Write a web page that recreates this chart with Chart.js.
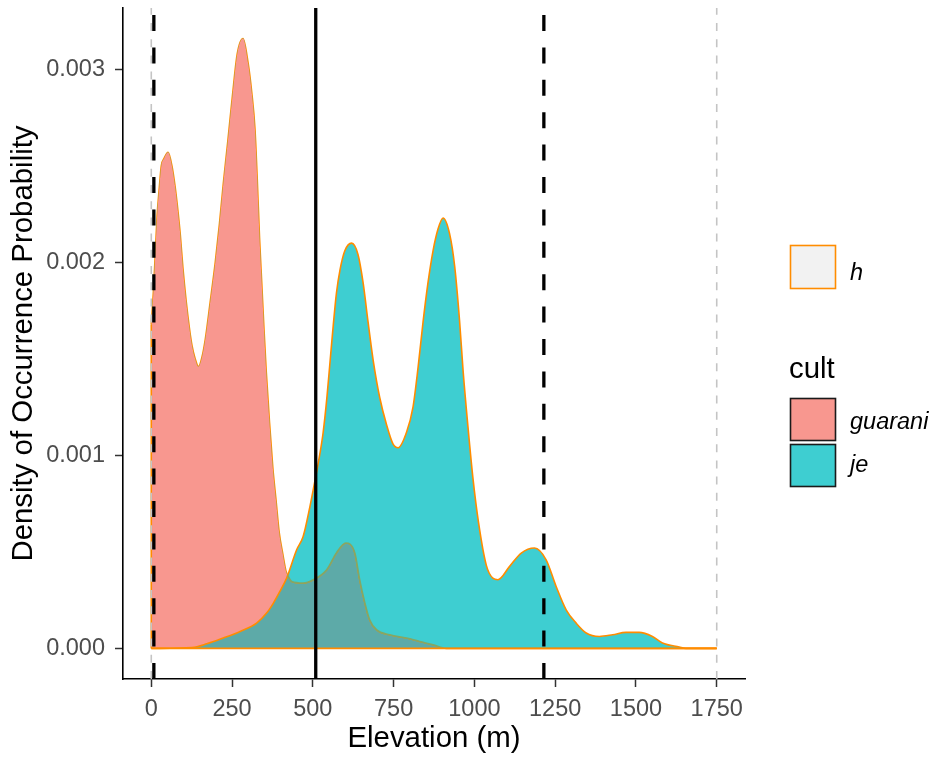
<!DOCTYPE html>
<html>
<head>
<meta charset="utf-8">
<title>Elevation density by cultural tradition</title>
<script src="https://cdn.jsdelivr.net/npm/chart.js@4.4.1/dist/chart.umd.min.js"></script>
<style>
  html, body { margin: 0; padding: 0; background: #ffffff; }
  #wrap { width: 939px; height: 758px; }
  canvas { display: block; }
</style>
</head>
<body>
<div id="wrap"><canvas id="chart" width="939" height="758"></canvas></div>
<script>
// Kernel density of site elevations, per cultural tradition
const guaraniElevation = [0, 7, 12, 18, 25, 31, 40, 52, 64, 74, 81, 90, 98, 108, 118, 126, 136, 146, 157, 167,
  182, 198, 211, 223, 237, 251, 266, 284, 300, 311, 321, 328, 335, 342, 349, 356, 366, 376, 386, 396,
  407, 417, 424, 435, 470, 501, 543, 573, 602, 630, 645, 661, 676, 697, 738, 790, 831, 872, 913, 1750];
const guaraniDensity = [0.00168, 0.00186, 0.00203, 0.00224, 0.00239, 0.00250, 0.00254, 0.00257, 0.00250, 0.00239,
  0.00229, 0.00214, 0.00197, 0.00180, 0.00166, 0.00157, 0.00150, 0.00146, 0.00151, 0.00160,
  0.00179, 0.00200, 0.00220, 0.00241, 0.00263, 0.00286, 0.00308, 0.00316, 0.00303, 0.00288,
  0.00269, 0.00243, 0.00213, 0.00189, 0.00165, 0.00143, 0.00117, 0.00094, 0.00077, 0.00060,
  0.00049, 0.00040, 0.000373, 0.000347, 0.000339, 0.000356, 0.000408, 0.000495, 0.000546, 0.000495,
  0.000356, 0.000236, 0.000148, 0.000097, 0.000071, 0.000054, 0.000036, 0.000019, 0, 0];

const jeElevation = [0, 126, 172, 223, 275, 326, 357, 378, 398, 419, 450, 470, 491, 501, 522, 532, 543, 553, 563, 573,
  584, 599, 620, 640, 656, 671, 687, 707, 728, 748, 764, 790, 810, 826, 841, 856, 872, 887, 903, 923,
  939, 954, 965, 980, 995, 1013, 1037, 1057, 1073, 1109, 1145, 1186, 1222, 1253, 1284, 1315, 1346, 1387, 1428, 1469,
  1510, 1551, 1582, 1634, 1654, 1750];
const jeDensity = [0, 0.000005, 0.000024, 0.000054, 0.000088, 0.000131, 0.000183, 0.000235, 0.000295, 0.000365,
  0.000511, 0.00058, 0.000735, 0.00082, 0.00101, 0.00112, 0.00129, 0.00148, 0.00167, 0.00184,
  0.00196, 0.00206, 0.00210, 0.00204, 0.00189, 0.00169, 0.00149, 0.00130, 0.00116, 0.00106,
  0.00104, 0.00112, 0.00125, 0.00146, 0.00169, 0.00189, 0.00206, 0.00217, 0.00223, 0.00215,
  0.00198, 0.00170, 0.00144, 0.00115, 0.00089, 0.00065, 0.00043, 0.000364, 0.000356, 0.000425,
  0.000494, 0.00052, 0.000459, 0.000321, 0.00020, 0.000131, 0.00008, 0.000062, 0.000071, 0.000083,
  0.000083, 0.000062, 0.000028, 0.000007, 0, 0];

const seriesNames = ['guarani', 'je'];
const outlineName = 'h';
const legendTitle = 'cult';

const elevationTicks = [0, 250, 500, 750, 1000, 1250, 1500, 1750];
const densityTicks = [0, 0.001, 0.002, 0.003];

// reference lines (elevation, m)
const studyBounds = [0, 1750];       // grey dashed
const quantileLines = [8, 1215];     // black dashed
const medianLine = [509];            // black solid

const ORANGE = '#FF8C00';
const OLIVE = 'rgb(128,168,104)';
const GUARANI_FILL = 'rgb(248,151,143)';
const JE_FILL = 'rgb(62,206,209)';
const OVERLAP_FILL = 'rgb(93,170,168)';
const FONT = 'Arial, "Liberation Sans", sans-serif';

Chart.defaults.font.family = FONT;

function toPoints(xs, ys) { return xs.map((x, i) => ({ x: x, y: ys[i] })); }

const refLines = {
  id: 'refLines',
  afterDatasetsDraw(chart) {
    const { ctx, chartArea, scales: { x, y } } = chart;
    const y0 = y.getPixelForValue(0);
    const jeLine = chart.getDatasetMeta(0).dataset;
    const guLine = chart.getDatasetMeta(1).dataset;

    // guarani outline seen through the je area
    ctx.save();
    ctx.beginPath();
    jeLine.path(ctx);
    ctx.lineTo(x.getPixelForValue(jeElevation[jeElevation.length - 1]), y0);
    ctx.lineTo(x.getPixelForValue(jeElevation[0]), y0);
    ctx.closePath();
    ctx.clip();
    ctx.strokeStyle = OLIVE;
    ctx.lineWidth = 1.6;
    ctx.beginPath();
    guLine.path(ctx);
    ctx.stroke();
    ctx.restore();

    ctx.save();
    // outline baseline and left closing edge of the densities
    ctx.strokeStyle = ORANGE;
    ctx.lineWidth = 1.6;
    ctx.beginPath();
    ctx.moveTo(x.getPixelForValue(studyBounds[0]), y0);
    ctx.lineTo(x.getPixelForValue(studyBounds[1]), y0);
    ctx.moveTo(x.getPixelForValue(guaraniElevation[0]), y0);
    ctx.lineTo(x.getPixelForValue(guaraniElevation[0]), y.getPixelForValue(guaraniDensity[0]));
    ctx.stroke();

    const vline = (v, color, width, dash) => {
      const px = x.getPixelForValue(v);
      ctx.strokeStyle = color;
      ctx.lineWidth = width;
      ctx.setLineDash(dash);
      ctx.beginPath();
      ctx.moveTo(px, chartArea.bottom);
      ctx.lineTo(px, chartArea.top);
      ctx.stroke();
    };
    studyBounds.forEach(v => vline(v, '#C4C4C4', 1.6, [8, 8.2]));
    quantileLines.forEach(v => vline(v, '#000000', 3.3, [16, 16.4]));
    medianLine.forEach(v => vline(v, '#000000', 3.3, []));
    ctx.restore();
  }
};

const sideLegend = {
  id: 'sideLegend',
  afterDraw(chart) {
    const ctx = chart.ctx;
    ctx.save();
    ctx.lineWidth = 1.6;
    // outline key
    ctx.fillStyle = '#F2F2F2';
    ctx.fillRect(790.5, 245.5, 45, 43);
    ctx.strokeStyle = ORANGE;
    ctx.strokeRect(790.5, 245.5, 45, 43);
    // fill keys
    const keys = [[398, GUARANI_FILL], [444, JE_FILL]];
    keys.forEach(([top, col]) => {
      ctx.fillStyle = col;
      ctx.fillRect(790.5, top + 0.5, 45, 42);
      ctx.strokeStyle = '#1A1A1A';
      ctx.strokeRect(790.5, top + 0.5, 45, 42);
    });
    ctx.fillStyle = '#000000';
    ctx.textBaseline = 'alphabetic';
    ctx.textAlign = 'left';
    ctx.font = 'italic 23.5px ' + FONT;
    ctx.fillText(outlineName, 850, 280);
    ctx.fillText(seriesNames[0], 850, 429);
    ctx.fillText(seriesNames[1], 850, 472);
    ctx.font = '29.4px ' + FONT;
    ctx.fillText(legendTitle, 789, 378);
    ctx.restore();
  }
};

new Chart(document.getElementById('chart'), {
  type: 'line',
  data: {
    datasets: [
      {
        label: seriesNames[1],
        data: toPoints(jeElevation, jeDensity),
        order: 0,
        borderColor: ORANGE,
        borderWidth: 1.6,
        pointRadius: 0,
        cubicInterpolationMode: 'monotone',
        fill: { target: 1, above: JE_FILL, below: GUARANI_FILL }
      },
      {
        label: seriesNames[0],
        data: toPoints(guaraniElevation, guaraniDensity),
        order: 1,
        borderColor: ORANGE,
        backgroundColor: OVERLAP_FILL,
        borderWidth: 1.6,
        pointRadius: 0,
        cubicInterpolationMode: 'monotone',
        fill: 'origin'
      }
    ]
  },
  options: {
    responsive: false,
    animation: false,
    devicePixelRatio: 1,
    layout: { padding: { left: 0, top: 8, right: 194, bottom: 0 } },
    plugins: { legend: { display: false }, tooltip: { enabled: false } },
    scales: {
      x: {
        type: 'linear',
        min: -87.5,
        max: 1837.5,
        afterBuildTicks: s => { s.ticks = elevationTicks.map(v => ({ value: v })); },
        afterFit: s => { s.height = 79; s.paddingLeft = 0; s.paddingRight = 0; },
        grid: { display: true, drawOnChartArea: false, drawTicks: true, tickLength: 8, tickColor: '#333333', tickWidth: 1.5 },
        border: { display: true, color: '#000000', width: 1.6 },
        ticks: { color: '#4D4D4D', font: { size: 23.5 }, padding: 8, maxRotation: 0, autoSkip: false, callback: v => String(v) },
        title: { display: true, text: 'Elevation (m)', color: '#000000', font: { size: 29.4 }, padding: { top: 0, bottom: 1 } }
      },
      y: {
        type: 'linear',
        min: -0.0001585,
        max: 0.003318,
        afterBuildTicks: s => { s.ticks = densityTicks.map(v => ({ value: v })); },
        afterFit: s => { s.width = 123; s.paddingTop = 0; s.paddingBottom = 0; },
        grid: { display: true, drawOnChartArea: false, drawTicks: true, tickLength: 8, tickColor: '#333333', tickWidth: 1.5 },
        border: { display: true, color: '#000000', width: 1.6 },
        ticks: { color: '#4D4D4D', font: { size: 23.5 }, padding: 10, autoSkip: false, callback: v => v.toFixed(3) },
        title: { display: true, text: 'Density of Occurrence Probability', color: '#000000', font: { size: 29.4 }, padding: { top: 6, bottom: 0 } }
      }
    }
  },
  plugins: [refLines, sideLegend]
});
</script>
</body>
</html>
